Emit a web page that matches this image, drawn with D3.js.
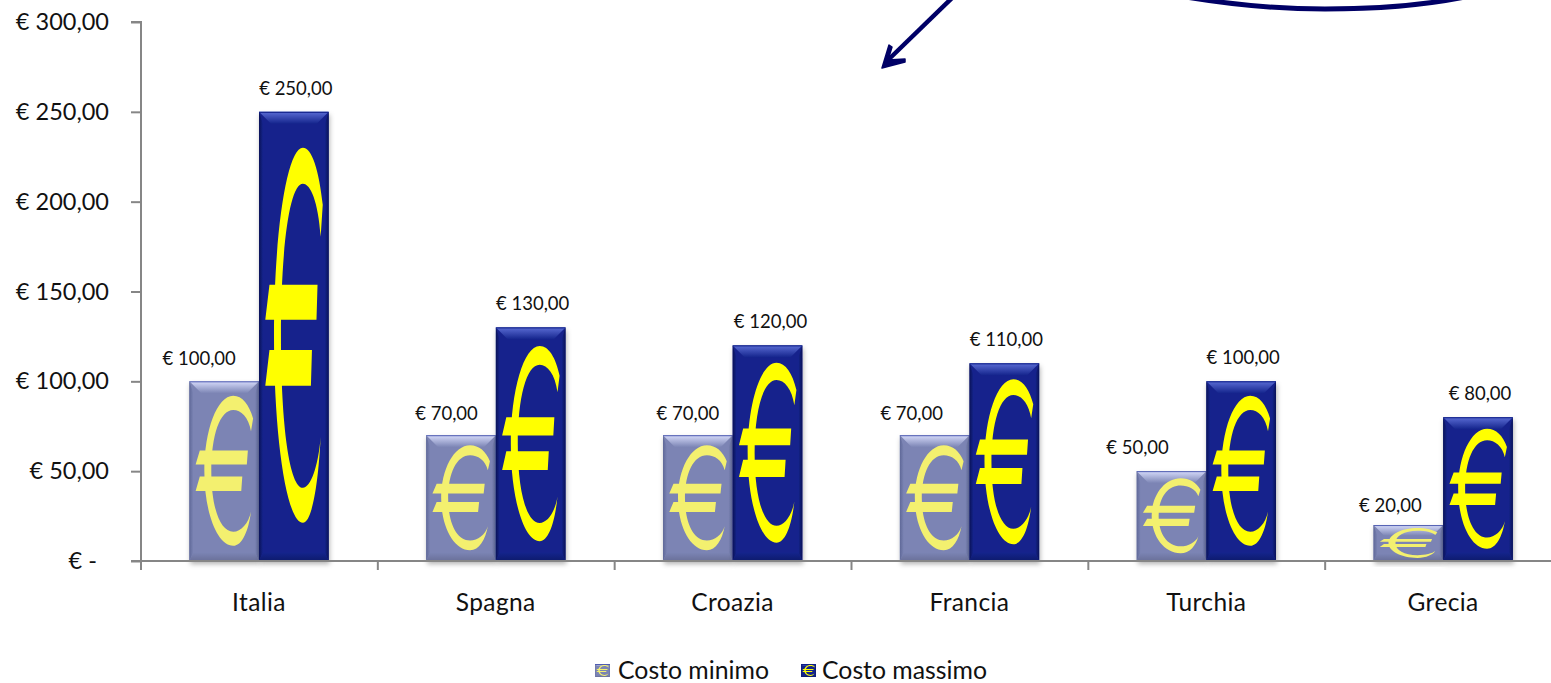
<!DOCTYPE html>
<html>
<head>
<meta charset="utf-8">
<script src="https://cdnjs.cloudflare.com/ajax/libs/d3/7.9.0/d3.min.js"></script>
<style>
html,body{margin:0;padding:0;background:#fff;overflow:hidden}
svg{display:block}
text{font-family:Lato,"Open Sans",sans-serif;fill:#111}
</style>
</head>
<body>
<svg id="chart" width="1551" height="683"></svg>
<script>
const categories = ["Italia", "Spagna", "Croazia", "Francia", "Turchia", "Grecia"];
const seriesNames = ["Costo minimo", "Costo massimo"];
const costoMinimo = [100, 70, 70, 70, 50, 20];
const costoMassimo = [250, 130, 120, 110, 100, 80];
const yTicks = [0, 50, 100, 150, 200, 250, 300];
const minLabelShift = [-25, -14.5, -10, -23, -34, -18];
const minLabelDrop = [1, 2, 2, 2, 0, 4];
const maxLabelShift = [2, 2, 3, 2, 2, 2];

const svg = d3.select("#chart");
const locale = d3.formatLocale({decimal: ",", thousands: ".", grouping: [3], currency: ["€ ", ""]});
const money = v => "€ " + locale.format(",.2f")(v);

const y = d3.scaleLinear().domain([0, 300]).range([561, 22]);
const x = d3.scaleBand().domain(categories).range([141, 1562]).padding(0);
const xInner = d3.scaleBand().domain(seriesNames).range([0, x.bandwidth()]).paddingInner(0).paddingOuter(0.7);
const barNudge = -0.4;

const styles = {
  "Costo minimo": {base: "#7b84b4", edge: "#5a64a2", top: "#d6dbfa", topEdge: "#4f5cb0", dark: "#5f6898", bottom: "#6a7099", glyph: "#f3f06f"},
  "Costo massimo": {base: "#14248c", edge: "#0b1560", top: "#5a6cd4", topEdge: "#0f1f86", dark: "#0a1258", bottom: "#0d1a6c", glyph: "#ffff00"}
};

const defs = svg.append("defs");
const shadow = defs.append("filter").attr("id", "soft").attr("x", "-10%").attr("y", "-10%").attr("width", "120%").attr("height", "125%");
shadow.append("feDropShadow").attr("dx", 1).attr("dy", 3).attr("stdDeviation", 2.5).attr("flood-color", "#000").attr("flood-opacity", 0.3);

seriesNames.forEach((name, i) => {
  const s = styles[name];
  const top = defs.append("linearGradient").attr("id", "top" + i).attr("x1", 0).attr("y1", 0).attr("x2", 0).attr("y2", 1);
  top.append("stop").attr("offset", 0).attr("stop-color", s.top);
  top.append("stop").attr("offset", 1).attr("stop-color", s.base);
  const left = defs.append("linearGradient").attr("id", "left" + i);
  left.append("stop").attr("offset", 0).attr("stop-color", s.dark);
  left.append("stop").attr("offset", 1).attr("stop-color", s.base);
  const right = defs.append("linearGradient").attr("id", "right" + i);
  right.append("stop").attr("offset", 0).attr("stop-color", s.base);
  right.append("stop").attr("offset", 1).attr("stop-color", s.dark);
  const bottom = defs.append("linearGradient").attr("id", "bottom" + i).attr("x1", 0).attr("y1", 0).attr("x2", 0).attr("y2", 1);
  bottom.append("stop").attr("offset", 0).attr("stop-color", s.base);
  bottom.append("stop").attr("offset", 1).attr("stop-color", s.bottom);
});

// Euro sign, stretched to fill whatever box the bar gives it
function euroPath(gx, gy) {
  const p = d3.path();
  const m = (a, b) => p.moveTo(gx(a), gy(b));
  const l = (a, b) => p.lineTo(gx(a), gy(b));
  const c = (a, b, d, e, f, g) => p.bezierCurveTo(gx(a), gy(b), gx(d), gy(e), gx(f), gy(g));
  // crescent
  m(.885, .278); l(.915, .207);
  c(.86, .13, .76, .08, .63, .08);
  c(.40, .08, .215, .27, .215, .5);
  c(.215, .73, .40, .915, .63, .915);
  c(.76, .915, .85, .83, .885, .724);
  c(.85, .79, .74, .837, .63, .837);
  c(.44, .837, .315, .70, .315, .5);
  c(.315, .30, .44, .16, .63, .16);
  c(.74, .16, .85, .2, .885, .278);
  p.closePath();
  // upper bar (same winding as the crescent)
  m(.15, .385); l(.09, .463); l(.825, .463); l(.84, .385); p.closePath();
  // lower bar
  m(.15, .53); l(.09, .61); l(.745, .61); l(.76, .53); p.closePath();
  return p.toString();
}

function drawBar(g, x0, y0, w, h, name, bevel, withShadow) {
  const i = seriesNames.indexOf(name), s = styles[name];
  const t = Math.min(bevel, h * 0.3);
  const side = Math.min(bevel * 0.33, w * 0.1);
  const bot = Math.min(bevel * 0.7, h * 0.2);
  const b = g.append("g");
  const face = b.append("rect").attr("x", x0).attr("y", y0).attr("width", w).attr("height", h).attr("fill", s.base);
  if (withShadow) face.attr("filter", "url(#soft)");
  const poly = pts => pts.map(d => d.join(",")).join(" ");
  b.append("polygon").attr("points", poly([[x0, y0], [x0 + side, y0 + t], [x0 + side, y0 + h - bot], [x0, y0 + h]])).attr("fill", `url(#left${i})`);
  b.append("polygon").attr("points", poly([[x0 + w, y0], [x0 + w - side, y0 + t], [x0 + w - side, y0 + h - bot], [x0 + w, y0 + h]])).attr("fill", `url(#right${i})`);
  b.append("polygon").attr("points", poly([[x0, y0 + h], [x0 + side, y0 + h - bot], [x0 + w - side, y0 + h - bot], [x0 + w, y0 + h]])).attr("fill", `url(#bottom${i})`);
  b.append("polygon").attr("points", poly([[x0, y0], [x0 + w, y0], [x0 + w - t, y0 + t], [x0 + t, y0 + t]])).attr("fill", `url(#top${i})`);
  b.append("line").attr("x1", x0).attr("x2", x0 + w).attr("y1", y0 + .5).attr("y2", y0 + .5).attr("stroke", s.topEdge).attr("stroke-width", 1);
  const gx = d3.scaleLinear().domain([0, 1]).range([x0, x0 + w]);
  const gy = d3.scaleLinear().domain([0, 1]).range([y0, y0 + h]);
  b.append("path").attr("d", euroPath(gx, gy)).attr("fill", s.glyph);
}

const rows = categories.map((c, k) => ({c, k, min: costoMinimo[k], max: costoMassimo[k]}));
const barsLayer = svg.append("g");
rows.forEach(r => {
  seriesNames.forEach((name, si) => {
    const v = si === 0 ? r.min : r.max;
    drawBar(barsLayer, x(r.c) + xInner(name) + barNudge, y(v), xInner.bandwidth(), y(0) - y(v), name, 12, true);
  });
});

// axes
const axisColor = "#868686";
const yAxis = svg.append("g").attr("transform", "translate(141,0)")
  .call(d3.axisLeft(y).tickValues(yTicks).tickSize(10).tickPadding(22).tickFormat(v => v === 0 ? "€ -" : money(v)));
yAxis.selectAll("path,line").attr("stroke", axisColor).attr("stroke-width", 2);
yAxis.select("path").attr("d", `M-10,${y(300)}H0V${y(0)}`).attr("fill", "none");
yAxis.selectAll("text").attr("font-size", 23.5).attr("font-family", "Lato").attr("dx", d => d === 0 ? -12 : 0);

const xAxis = svg.append("g").attr("transform", "translate(0,561)");
xAxis.append("line").attr("x1", 131).attr("x2", 1551).attr("stroke", axisColor).attr("stroke-width", 2);
xAxis.selectAll("line.t").data([...categories, null]).join("line").attr("class", "t")
  .attr("x1", d => d === null ? x.range()[1] : x(d)).attr("x2", d => d === null ? x.range()[1] : x(d))
  .attr("y1", 0).attr("y2", 9).attr("stroke", axisColor).attr("stroke-width", 2);
xAxis.selectAll("text").data(categories).join("text")
  .attr("x", d => x(d) + x.bandwidth() / 2 - .5).attr("y", 50)
  .attr("text-anchor", "middle").attr("font-size", 24.5).attr("letter-spacing", 0.4).text(d => d);

// data labels
const labelLayer = svg.append("g").attr("font-size", 18.5).attr("text-anchor", "middle");
rows.forEach(r => {
  const name0 = seriesNames[0], name1 = seriesNames[1];
  labelLayer.append("text").attr("x", x(r.c) + xInner(name0) + xInner.bandwidth() / 2 + minLabelShift[r.k] + barNudge).attr("y", y(r.min) - 17 + minLabelDrop[r.k]).text(money(r.min));
  labelLayer.append("text").attr("x", x(r.c) + xInner(name1) + xInner.bandwidth() / 2 + maxLabelShift[r.k] + barNudge).attr("y", y(r.max) - 17).text(money(r.max));
});

// legend
const legendX = [595, 801];
seriesNames.forEach((name, i) => {
  drawBar(svg, legendX[i], 664, 15, 13, name, 2.5, false);
  svg.append("text").attr("x", legendX[i] + (i === 0 ? 23 : 21)).attr("y", 679).attr("font-size", 24.8).text(name);
});

// annotation shapes cut off by the top of the picture
const navy = "#000066";
svg.append("path").attr("d", "M952,-2L886,62").attr("stroke", navy).attr("stroke-width", 4.5).attr("fill", "none");
svg.append("path").attr("d", "M882,68L889,45L892,47L888,60L905,59L905,62Z").attr("fill", navy).attr("stroke", navy).attr("stroke-width", 1.5).attr("stroke-linejoin", "round");
svg.append("path").attr("d", "M1186,-3C1240,6 1285,9 1325,9C1370,9 1420,6 1465,-3").attr("stroke", navy).attr("stroke-width", 5).attr("fill", "none");
</script>
</body>
</html>
